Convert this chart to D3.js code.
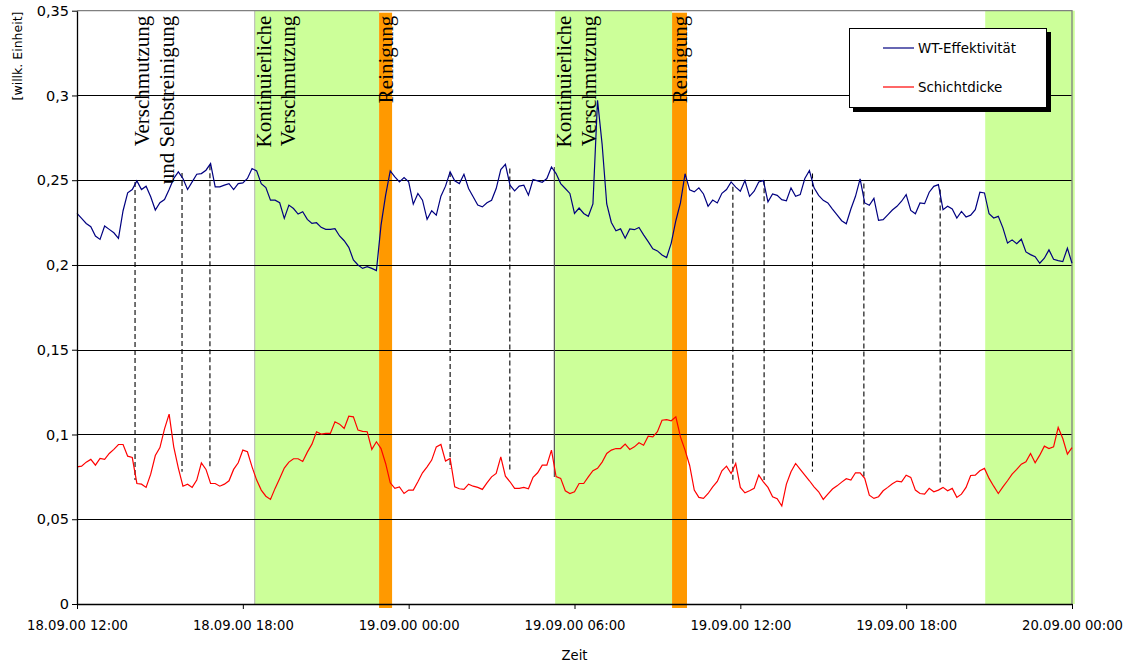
<!DOCTYPE html>
<html>
<head>
<meta charset="utf-8">
<script src="https://cdnjs.cloudflare.com/ajax/libs/d3/7.8.5/d3.min.js"></script>
<style>
body { margin: 0; background: #fff; }
svg text { font-family: "DejaVu Sans", Verdana, sans-serif; }
.note { font-family: "Liberation Serif", "Times New Roman", serif; font-size: 21px; }
</style>
</head>
<body>
<svg id="chart" width="1130" height="663"></svg>
<script>
// tick labels
var xTicks = ["18.09.00 12:00", "18.09.00 18:00", "19.09.00 00:00", "19.09.00 06:00",
	"19.09.00 12:00", "19.09.00 18:00", "20.09.00 00:00"];
var yTicks = [0, 0.05, 0.1, 0.15, 0.2, 0.25, 0.3, 0.35];
var seriesNames = ["WT-Effektivität", "Schichtdicke"];

// one reading every 10 minutes from 18.09.00 12:00
var stepMinutes = 10;

var wtEff = [
	0.2304, 0.2275, 0.2245, 0.2226, 0.2171, 0.2151, 0.2230, 0.2210, 0.2190, 0.2157,
	0.2320, 0.2426, 0.2445, 0.2496, 0.2445, 0.2465, 0.2402, 0.2324, 0.2367, 0.2386,
	0.2445, 0.2510, 0.2549, 0.2510, 0.2445, 0.2490, 0.2535, 0.2539, 0.2559, 0.2598,
	0.2461, 0.2461, 0.2471, 0.2480, 0.2445, 0.2480, 0.2484, 0.2510, 0.2569, 0.2555,
	0.2480, 0.2457, 0.2382, 0.2382, 0.2367, 0.2275, 0.2353, 0.2333, 0.2300, 0.2314,
	0.2269, 0.2245, 0.2249, 0.2222, 0.2210, 0.2210, 0.2214, 0.2171, 0.2143, 0.2104,
	0.2030, 0.2000, 0.1980, 0.1990, 0.1980, 0.1967, 0.2235, 0.2412, 0.2555, 0.2520,
	0.2490, 0.2516, 0.2490, 0.2359, 0.2422, 0.2382, 0.2269, 0.2320, 0.2294, 0.2406,
	0.2465, 0.2549, 0.2496, 0.2480, 0.2535, 0.2451, 0.2402, 0.2353, 0.2343, 0.2367,
	0.2382, 0.2451, 0.2563, 0.2594, 0.2471, 0.2437, 0.2465, 0.2471, 0.2412, 0.2504,
	0.2496, 0.2488, 0.2510, 0.2578, 0.2539, 0.2480, 0.2451, 0.2422, 0.2304, 0.2336,
	0.2304, 0.2287, 0.2360, 0.2972, 0.2711, 0.2360, 0.2251, 0.2202, 0.2213, 0.2158,
	0.2213, 0.2208, 0.2221, 0.2178, 0.2138, 0.2095, 0.2083, 0.2059, 0.2044, 0.2129,
	0.2261, 0.2366, 0.2538, 0.2443, 0.2431, 0.2455, 0.2419, 0.2346, 0.2383, 0.2366,
	0.2423, 0.2445, 0.2490, 0.2459, 0.2435, 0.2498, 0.2405, 0.2435, 0.2490, 0.2498,
	0.2372, 0.2419, 0.2411, 0.2385, 0.2379, 0.2455, 0.2405, 0.2415, 0.2510, 0.2557,
	0.2455, 0.2411, 0.2381, 0.2366, 0.2330, 0.2296, 0.2261, 0.2243, 0.2330, 0.2405,
	0.2508, 0.2366, 0.2352, 0.2393, 0.2263, 0.2267, 0.2296, 0.2324, 0.2346, 0.2376,
	0.2415, 0.2322, 0.2302, 0.2366, 0.2362, 0.2429, 0.2464, 0.2474, 0.2326, 0.2346,
	0.2330, 0.2277, 0.2316, 0.2283, 0.2294, 0.2326, 0.2429, 0.2425, 0.2302, 0.2277,
	0.2287, 0.2219, 0.2129, 0.2148, 0.2125, 0.2152, 0.2077, 0.2061, 0.2049, 0.2010,
	0.2040, 0.2089, 0.2034, 0.2026, 0.2020, 0.2099, 0.2010
];

var schicht = [
	0.0809, 0.0813, 0.0837, 0.0853, 0.0819, 0.0859, 0.0853, 0.0888, 0.0912, 0.0941,
	0.0941, 0.0872, 0.0864, 0.0711, 0.0707, 0.0688, 0.0766, 0.0876, 0.0923, 0.1033,
	0.1120, 0.0927, 0.0802, 0.0695, 0.0707, 0.0688, 0.0731, 0.0833, 0.0794, 0.0711,
	0.0711, 0.0695, 0.0707, 0.0727, 0.0794, 0.0833, 0.0908, 0.0898, 0.0809, 0.0731,
	0.0672, 0.0636, 0.0617, 0.0682, 0.0741, 0.0802, 0.0837, 0.0857, 0.0857, 0.0841,
	0.0896, 0.0943, 0.1016, 0.1002, 0.1006, 0.1006, 0.1075, 0.1061, 0.1035, 0.1108,
	0.1104, 0.1026, 0.1018, 0.1016, 0.0912, 0.0957, 0.0917, 0.0829, 0.0715, 0.0682,
	0.0691, 0.0652, 0.0672, 0.0672, 0.0721, 0.0774, 0.0809, 0.0849, 0.0927, 0.0941,
	0.0843, 0.0859, 0.0691, 0.0680, 0.0676, 0.0707, 0.0695, 0.0688, 0.0676, 0.0715,
	0.0750, 0.0770, 0.0868, 0.0754, 0.0721, 0.0682, 0.0682, 0.0688, 0.0680, 0.0747,
	0.0774, 0.0819, 0.0819, 0.0908, 0.0752, 0.0741, 0.0668, 0.0652, 0.0662,
	0.0711, 0.0711, 0.0750, 0.0786, 0.0800, 0.0837, 0.0888, 0.0908, 0.0917, 0.0917,
	0.0943, 0.0912, 0.0927, 0.0951, 0.0937, 0.0990, 0.0986, 0.1016, 0.1084, 0.1088,
	0.1081, 0.1104, 0.0986, 0.0908, 0.0817, 0.0672, 0.0629, 0.0623, 0.0652, 0.0691,
	0.0723, 0.0786, 0.0813, 0.0770, 0.0829, 0.0688, 0.0656, 0.0668, 0.0682, 0.0760,
	0.0721, 0.0688, 0.0633, 0.0621, 0.0578, 0.0707, 0.0780, 0.0829, 0.0794, 0.0760,
	0.0727, 0.0691, 0.0662, 0.0617, 0.0648, 0.0678, 0.0697, 0.0719, 0.0739, 0.0731,
	0.0774, 0.0774, 0.0741, 0.0642, 0.0623, 0.0633, 0.0668, 0.0688, 0.0709, 0.0725,
	0.0721, 0.0760, 0.0747, 0.0672, 0.0652, 0.0648, 0.0682, 0.0662, 0.0672, 0.0688,
	0.0668, 0.0682, 0.0629, 0.0648, 0.0688, 0.0758, 0.0760, 0.0786, 0.0800, 0.0741,
	0.0695, 0.0652, 0.0691, 0.0727, 0.0766, 0.0794, 0.0825, 0.0839, 0.0888, 0.0833,
	0.0878, 0.0931, 0.0917, 0.0927, 0.1041, 0.0976, 0.0884, 0.0923
];

// phases, in hours from the first reading
var fouling = [[6.43, 10.93], [17.30, 21.53], [32.86, 36.1]];
var cleaning = [[10.93, 11.40], [21.53, 22.07]];

// events: hour, WT value at top, Schichtdicke value at bottom
var eventHours = [2.1, 3.8, 4.81, 13.5, 15.66, 17.27, 23.73, 24.86, 26.61, 28.47, 31.23];
var eventTop = [0.249, 0.2543, 0.2588, 0.2549, 0.2569, 0.2578, 0.2461, 0.250, 0.2539, 0.2480, 0.2445];
var eventBottom = [0.0731, 0.0780, 0.0796, 0.0800, 0.0794, 0.0749, 0.0721, 0.0731, 0.0780, 0.0743, 0.0702];
var eventSolid = [false, false, false, false, false, true, false, false, false, false, false];

var noteHours = [2.59, 3.51, 7.02, 7.89, 11.44, 17.86, 18.77, 22.07];
var noteTexts = ["Verschmutzung", "und Selbstreinigung", "Kontinuierliche", "Verschmutzung",
	"Reinigung", "Kontinuierliche", "Verschmutzung", "Reinigung"];

var plotLeft = 77, plotRight = 1072, plotTop = 10.7, plotBottom = 604;

var parseTick = d3.timeParse("%d.%m.%y %H:%M");
var start = parseTick(xTicks[0]);
function at(h) { return new Date(start.getTime() + h * 3600000); }

var x = d3.scaleTime()
	.domain([parseTick(xTicks[0]), parseTick(xTicks[xTicks.length - 1])])
	.range([plotLeft, plotRight]);

var y = d3.scaleLinear()
	.domain([0, 0.35])
	.range([plotBottom, plotTop]);

var de = d3.formatLocale({decimal: ",", thousands: ".", grouping: [3], currency: ["", " €"]});
var yFmt = de.format("~g");

var svg = d3.select("#chart");

svg.append("rect")
	.attr("width", 1130)
	.attr("height", 663)
	.attr("fill", "#fff");

var phaseLayer = svg.append("g");
var gridLayer = svg.append("g");
var lineLayer = svg.append("g");

phaseLayer.selectAll(".foul")
	.data(fouling)
	.enter().append("rect")
	.attr("x", function(d) { return x(at(d[0])); })
	.attr("width", function(d) { return x(at(d[1])) - x(at(d[0])); })
	.attr("y", plotTop)
	.attr("height", plotBottom - plotTop)
	.attr("fill", "#ccff99");

phaseLayer.selectAll(".clean")
	.data(cleaning)
	.enter().append("rect")
	.attr("x", function(d) { return x(at(d[0])); })
	.attr("width", function(d) { return x(at(d[1])) - x(at(d[0])); })
	.attr("y", plotTop + 2)
	.attr("height", plotBottom - plotTop + 2)
	.attr("fill", "#ff9900");

// thin edge at the start of the first fouling phase
phaseLayer.append("line")
	.attr("x1", x(at(fouling[0][0])))
	.attr("x2", x(at(fouling[0][0])))
	.attr("y1", plotTop)
	.attr("y2", plotBottom)
	.attr("stroke", "#b4b4b4");

gridLayer.selectAll(".grid")
	.data(yTicks.filter(function(d) { return d > 0 && d < 0.35; }))
	.enter().append("line")
	.attr("x1", plotLeft)
	.attr("x2", plotRight)
	.attr("y1", function(d) { return Math.round(y(d)) + 0.5; })
	.attr("y2", function(d) { return Math.round(y(d)) + 0.5; })
	.attr("stroke", "#000")
	.attr("stroke-width", 1);

gridLayer.append("path")
	.attr("d", "M" + plotLeft + "," + plotTop + "H" + plotRight + "V" + plotBottom)
	.attr("fill", "none")
	.attr("stroke", "#808080")
	.attr("stroke-width", 1.3);

lineLayer.selectAll(".event")
	.data(eventHours)
	.enter().append("line")
	.attr("x1", function(d) { return x(at(d)); })
	.attr("x2", function(d) { return x(at(d)); })
	.attr("y1", function(d, i) { return y(eventTop[i]); })
	.attr("y2", function(d, i) { return y(eventBottom[i]); })
	.attr("stroke", function(d, i) { return eventSolid[i] ? "#444" : "#000"; })
	.attr("stroke-dasharray", function(d, i) { return eventSolid[i] ? null : "5,3"; })
	.attr("stroke-width", 1.1);

function seriesLine(vals) {
	return d3.line()
		.x(function(d, i) { return x(at(i * stepMinutes / 60)); })
		.y(function(d) { return y(d); })
		.curve(d3.curveLinear)(vals);
}

lineLayer.append("path")
	.attr("d", seriesLine(wtEff))
	.attr("fill", "none")
	.attr("stroke", "#000080")
	.attr("stroke-width", 1.2);

lineLayer.append("path")
	.attr("d", seriesLine(schicht))
	.attr("fill", "none")
	.attr("stroke", "#ff0000")
	.attr("stroke-width", 1.2);

// axes
var yAxis = d3.axisLeft(y)
	.tickValues(yTicks)
	.tickSize(5)
	.tickSizeOuter(0)
	.tickPadding(3)
	.tickFormat(yFmt);

var gy = svg.append("g")
	.attr("transform", "translate(" + plotLeft + ",0)")
	.call(yAxis);

var xAxis = d3.axisBottom(x)
	.tickValues(xTicks.map(parseTick))
	.tickSize(5)
	.tickSizeOuter(0)
	.tickPadding(12)
	.tickFormat(function(d, i) { return xTicks[i]; });

var gx = svg.append("g")
	.attr("transform", "translate(0," + plotBottom + ")")
	.call(xAxis);

[gx, gy].forEach(function(g) {
	g.attr("font-family", null).attr("font-size", null);
	g.select(".domain").attr("stroke", "#000").attr("stroke-width", 1.3);
	g.selectAll(".tick line").attr("stroke", "#000");
	g.selectAll(".tick text").attr("fill", "#000").style("font-size", "13.2px");
});
gy.selectAll(".tick text").style("font-size", "14.5px");

svg.append("text")
	.attr("transform", "translate(22,56) rotate(-90)")
	.attr("text-anchor", "middle")
	.style("font-size", "12.5px")
	.text("[willk. Einheit]");

svg.append("text")
	.attr("x", (plotLeft + plotRight) / 2)
	.attr("y", 660)
	.attr("text-anchor", "middle")
	.style("font-size", "13.2px")
	.text("Zeit");

// annotations
svg.selectAll(".note")
	.data(noteHours)
	.enter().append("text")
	.attr("class", "note")
	.attr("transform", function(d) { return "translate(" + x(at(d)) + "," + (plotTop + 5) + ") rotate(-90)"; })
	.attr("text-anchor", "end")
	.text(function(d, i) { return noteTexts[i]; });

// legend
var legend = svg.append("g").attr("transform", "translate(849,28)");

legend.append("rect")
	.attr("x", 4)
	.attr("y", 4)
	.attr("width", 198)
	.attr("height", 80)
	.attr("fill", "#000");

legend.append("rect")
	.attr("x", 0.5)
	.attr("y", 0.5)
	.attr("width", 197)
	.attr("height", 79)
	.attr("fill", "#fff")
	.attr("stroke", "#000");

var legendColors = ["#000080", "#ff0000"];

var item = legend.selectAll(".item")
	.data(seriesNames)
	.enter().append("g")
	.attr("transform", function(d, i) { return "translate(0," + (20 + i * 39) + ")"; });

item.append("line")
	.attr("x1", 34)
	.attr("x2", 65)
	.attr("stroke", function(d, i) { return legendColors[i]; })
	.attr("stroke-width", 1.2);

item.append("text")
	.attr("x", 69)
	.attr("dy", "0.36em")
	.style("font-size", "13.4px")
	.text(function(d) { return d; });
</script>
</body>
</html>
